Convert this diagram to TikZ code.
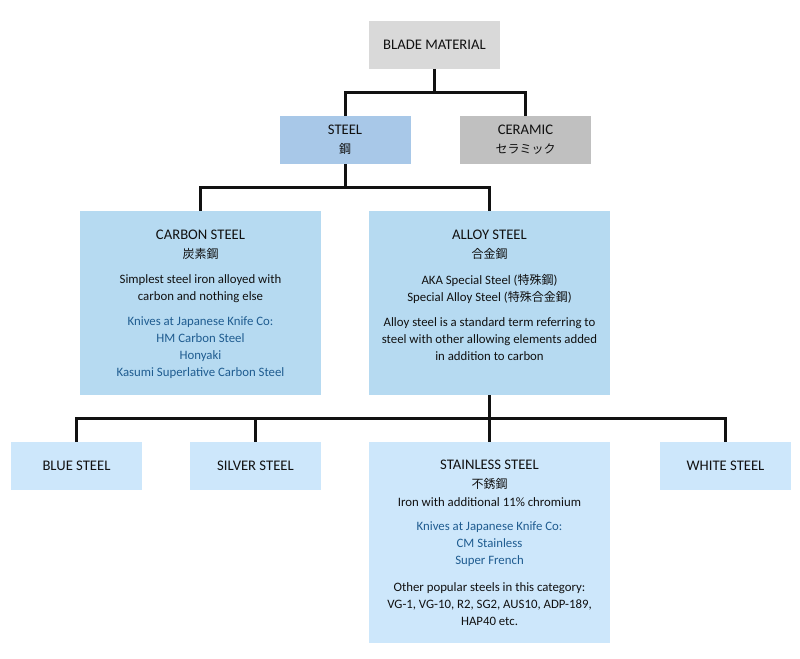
\documentclass[tikz,border=0pt]{standalone}
\usepackage{fontspec}
\setmainfont{Carlito}
\newfontfamily\jp{Noto Sans CJK JP}
\usetikzlibrary{positioning}
\definecolor{rootgray}{HTML}{D9D9D9}
\definecolor{ceramicgray}{HTML}{C0C0C0}
\definecolor{steelblue}{HTML}{A8C8E8}
\definecolor{midblue}{HTML}{B6DAF1}
\definecolor{paleblue}{HTML}{CDE7FB}
\definecolor{knifeblue}{HTML}{1F5C90}
\definecolor{ink}{HTML}{111111}

\begin{document}
\begin{tikzpicture}[x=0.75pt,y=-0.75pt,
  box/.style={rectangle,inner sep=0pt,minimum width=98.25pt,minimum height=36pt,
    align=center,text=ink,font=\fontsize{11}{14}\selectfont},
  bigbox/.style={rectangle,inner sep=0pt,minimum width=180.75pt},
  title/.style={align=center,inner sep=0pt,text=ink,font=\fontsize{11}{14}\selectfont},
  body/.style={align=center,inner sep=0pt,text=ink,font=\fontsize{9.6}{12.75}\selectfont},
  knife/.style={body,text=knifeblue},
  link/.style={draw=ink,line width=2.25pt}]
\useasboundingbox (0,0) rectangle (800,658);
% top levels
\node[box,fill=rootgray] (root) at (434.5,44.5) {BLADE MATERIAL};
\node[box,fill=steelblue] (steel) at (345,140) {STEEL\\{\jp\fontsize{9}{12}\selectfont 鋼}};
\node[box,fill=ceramicgray] (ceramic) at (525.5,140) {CERAMIC\\{\jp\fontsize{9}{12}\selectfont セラミック}};
% carbon steel
\node[bigbox,fill=midblue,minimum height=138pt] (carbon) at (200.5,303) {};
\node[title] (carbonT) at (200.5,244.5) {CARBON STEEL\\{\jp\fontsize{9}{12}\selectfont 炭素鋼}};
\node[body] (carbonD) at (200.5,288.5) {Simplest steel iron alloyed with\\carbon and nothing else};
\node[knife] (carbonK) at (200.5,347.5) {Knives at Japanese Knife Co:\\HM Carbon Steel\\Honyaki\\Kasumi Superlative Carbon Steel};
% alloy steel
\node[bigbox,fill=midblue,minimum height=138pt] (alloy) at (489.5,303) {};
\node[title] (alloyT) at (489.5,244.5) {ALLOY STEEL\\{\jp\fontsize{9}{12}\selectfont 合金鋼}};
\node[body] (alloyA) at (489.5,288.5) {AKA Special Steel ({\jp\fontsize{9}{12}\selectfont 特殊鋼})\\Special Alloy Steel ({\jp\fontsize{9}{12}\selectfont 特殊合金鋼})};
\node[body] (alloyD) at (489.5,339) {Alloy steel is a standard term referring to\\steel with other allowing elements added\\in addition to carbon};
% third level
\node[box,fill=paleblue] (blue) at (76.5,466) {BLUE STEEL};
\node[box,fill=paleblue] (silver) at (255.5,466) {SILVER STEEL};
\node[box,fill=paleblue] (white) at (725.5,466) {WHITE STEEL};
\node[bigbox,fill=paleblue,minimum height=150.75pt] (stainless) at (489.5,542.5) {};
\node[title] (stainlessT) at (489.5,475) {STAINLESS STEEL\\{\jp\fontsize{9}{12}\selectfont 不銹鋼}};
\node[body] (stainlessD) at (489.5,502) {Iron with additional 11\% chromium};
\node[knife] (stainlessK) at (489.5,544.5) {Knives at Japanese Knife Co:\\CM Stainless\\Super French};
\node[body] (stainlessO) at (489.5,604) {Other popular steels in this category:\\VG-1, VG-10, R2, SG2, AUS10, ADP-189,\\HAP40 etc.};
% connectors
\draw[link] (root.south) -- ++(0,24) coordinate (rootj);
\draw[link] (steel.north) |- (rootj) -| (ceramic.north);
\draw[link] (steel.south) -- ++(0,23) coordinate (steelj);
\draw[link] (carbon.north) |- (steelj) -| (alloy.north);
\draw[link] (alloy.south) -- ++(0,23) coordinate (alloyj);
\draw[link] (alloyj) -- (stainless.north);
\draw[link] (blue.north) |- (alloyj) -| (white.north);
\draw[link] (silver.north) -- (silver.north |- alloyj);
\end{tikzpicture}
\end{document}
